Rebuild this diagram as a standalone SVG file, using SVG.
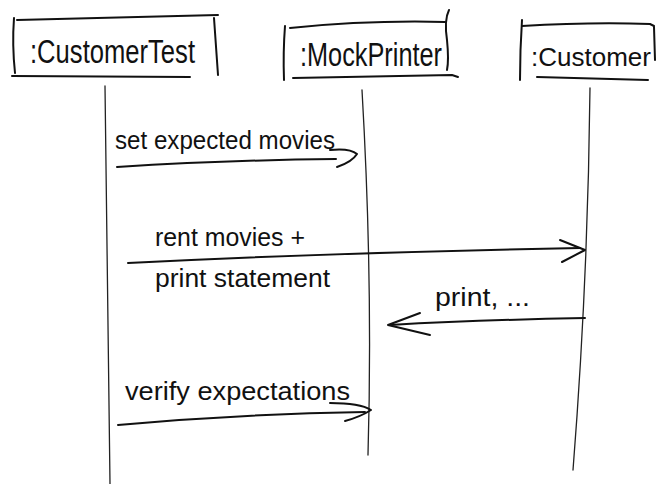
<svg xmlns="http://www.w3.org/2000/svg" width="660" height="484" viewBox="0 0 660 484">
  <style>
    .ink { fill: none; stroke: #111; stroke-width: 2; stroke-linecap: round; stroke-linejoin: round; }
    .thin { fill: none; stroke: #222; stroke-width: 1.3; stroke-linecap: round; }
    .head { font-family: "Liberation Sans", "DejaVu Sans", sans-serif; font-size: 33px; fill: #111; }
    .msg { font-family: "Liberation Sans", "DejaVu Sans", sans-serif; font-size: 26px; fill: #111; }
  </style>
  <rect width="660" height="484" fill="#fff"/>

  <g id="customer-test">
    <path class="ink" d="M14 18 Q12 45 15 73"/>
    <path class="ink" d="M17 20 L218 15"/>
    <path class="ink" d="M214 18 Q216 45 218 75"/>
    <path class="ink" d="M12 76 L190 77"/>
    <text class="head" x="30" y="63" textLength="165" lengthAdjust="spacingAndGlyphs">:CustomerTest</text>
  </g>

  <g id="mock-printer">
    <path class="ink" d="M285 26 Q283 52 284 80"/>
    <path class="ink" d="M290 28 Q370 20 445 22"/>
    <path class="ink" d="M449 10 Q444 20 447 40 Q449 60 447 70"/>
    <path class="ink" d="M293 78 L452 75 L458 77"/>
    <text class="head" x="300" y="66" textLength="142" lengthAdjust="spacingAndGlyphs">:MockPrinter</text>
  </g>

  <g id="customer">
    <path class="ink" d="M522 20 Q520 50 520 80"/>
    <path class="ink" d="M522 26 Q590 22 650 24 L654 26"/>
    <path class="ink" d="M654 27 L655 60"/>
    <path class="ink" d="M537 77 L648 80"/>
    <text class="head" x="531" y="66" style="font-size:26px">:Customer</text>
  </g>

  <g id="lifelines">
    <path class="thin" d="M105 86 Q108 280 110 484"/>
    <path class="thin" d="M362 90 Q373 280 368 455"/>
    <path class="thin" d="M590 88 Q588 280 573 470"/>
  </g>

  <g id="connectors">
    <path class="ink" d="M117 167 Q230 160 336 159"/>
    <path class="ink" d="M330 150 Q350 148 357 154 Q352 162 337 167"/>

    <path class="ink" d="M128 263 Q350 252 580 248"/>
    <path class="ink" d="M560 240 L585 250 L562 262"/>

    <path class="ink" d="M585 318 Q480 320 390 325"/>
    <path class="ink" d="M420 313 L388 325 L430 335"/>

    <path class="ink" d="M118 425 Q240 414 365 412"/>
    <path class="ink" d="M330 403 Q360 403 371 410 Q360 417 345 421"/>
  </g>

  <g id="labels">
    <text class="msg" x="115" y="149" textLength="220" lengthAdjust="spacingAndGlyphs">set expected movies</text>
    <text class="msg" x="155" y="246" textLength="150" lengthAdjust="spacingAndGlyphs">rent movies +</text>
    <text class="msg" x="155" y="287" textLength="175" lengthAdjust="spacingAndGlyphs">print statement</text>
    <text class="msg" x="435" y="306" textLength="95" lengthAdjust="spacingAndGlyphs">print, ...</text>
    <text class="msg" x="125" y="400" textLength="225" lengthAdjust="spacingAndGlyphs">verify expectations</text>
  </g>
</svg>
